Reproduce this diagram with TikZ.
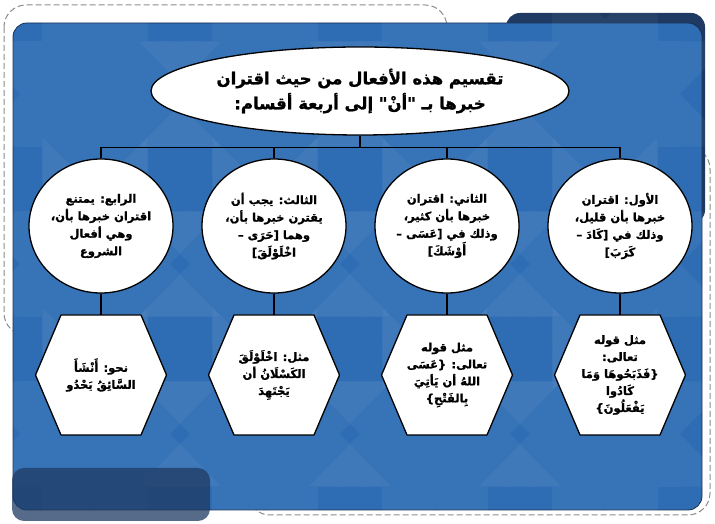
\documentclass[tikz,border=0pt]{standalone}
\usepackage{fontspec}
\usepackage{tikz}
\usetikzlibrary{shapes.geometric,calc}
\newfontfamily\arabicfont[Script=Arabic, BoldFeatures={FakeBold=1.2}]{DejaVu Sans}
\TeXXeTstate=1
\definecolor{SlideBlue}{HTML}{2E6DB4}
\definecolor{SlideNavy}{HTML}{1E3A62}
\definecolor{DashGray}{HTML}{8A8A8A}
\newcommand{\artext}[1]{\beginR #1\endR}
\tikzset{
  rootbox/.style={ellipse, draw=black, line width=1.3pt, fill=white,
    minimum width=418pt, minimum height=88pt, inner sep=0pt, align=center,
    font=\arabicfont\bfseries\fontsize{16.5}{25}\selectfont},
  kindbox/.style={ellipse, draw=black, line width=1.3pt, fill=white,
    minimum width=144pt, minimum height=134pt, inner sep=0pt, align=center,
    font=\arabicfont\bfseries\fontsize{11.5}{17.5}\selectfont},
  examplebox/.style={rectangle, minimum width=131pt, minimum height=120pt,
    inner sep=0pt, align=center,
    font=\arabicfont\bfseries\fontsize{11.5}{17}\selectfont},
  hexline/.style={draw=black, line width=1.3pt, fill=white, line join=round},
  branch/.style={draw=black, line width=1.2pt},
  dashframe/.style={DashGray, line width=1pt, dash pattern=on 6pt off 3pt, rounded corners=22pt},
}

\begin{document}
\begin{tikzpicture}[x=1pt,y=1pt]
  \useasboundingbox (0,0) rectangle (715,524);
  % slide background
  \draw[dashframe] (4,519) rectangle (447,189);
  \draw[dashframe] (248,9) rectangle (710,377);
  \fill[SlideNavy, rounded corners=14pt] (506,511) rectangle (705,300);
  \filldraw[fill=SlideBlue, draw=SlideNavy!80!black, line width=0.8pt, rounded corners=14pt] (13,14) rectangle (702,501);
  \foreach \px in {95,265,435,605}
    \foreach \py in {90,260,430}
      \node[star, star points=8, star point ratio=0.55, minimum size=150pt,
            fill=white, fill opacity=0.045] at (\px,\py) {};
  \fill[SlideNavy, fill opacity=0.75, rounded corners=12pt] (12,3) rectangle (210,56);

  % root
  \node[rootbox] (root) at (360,433)
    {\artext{تقسيم هذه الأفعال من حيث اقتران}\\
     \artext{خبرها بـ "أنْ" إلى أربعة أقسام:}};

  % the four kinds
  \node[kindbox] (k4) at (101,298)
    {\artext{الرابع: يمتنع}\\ \artext{اقتران خبرها بأن،}\\
     \artext{وهي أفعال}\\ \artext{الشروع}};
  \node[kindbox] (k3) at (274,298)
    {\artext{الثالث: يجب أن}\\ \artext{يقترن خبرها بأن،}\\
     \artext{وهما [حَرَى –}\\ \artext{اخْلَوْلَقَ]}};
  \node[kindbox] (k2) at (447,298)
    {\artext{الثاني: اقتران}\\ \artext{خبرها بأن كثير،}\\
     \artext{وذلك في [عَسَى –}\\ \artext{أَوْشَكَ]}};
  \node[kindbox] (k1) at (620,298)
    {\artext{الأول: اقتران}\\ \artext{خبرها بأن قليل،}\\
     \artext{وذلك في [كَادَ –}\\ \artext{كَرَبَ]}};

  % hexagons under the examples
  \foreach \px in {101,274,447,620}
    \draw[hexline] (\px-65.5,149) -- ++(25.5,60) -- ++(80,0) -- ++(25.5,-60)
      -- ++(-25.5,-60) -- ++(-80,0) -- cycle;

  % examples
  \node[examplebox] (e4) at (101,149)
    {\artext{نحو: أَنْشَأَ}\\ \artext{السَّائِقُ يَحْدُو}};
  \node[examplebox] (e3) at (274,149)
    {\artext{مثل: اخْلَوْلَقَ}\\ \artext{الكَسْلَانُ أن}\\ \artext{يَجْتَهِدَ}};
  \node[examplebox] (e2) at (447,149)
    {\artext{مثل قوله}\\ \artext{تعالى: \{عَسَى}\\
     \artext{اللهُ أن يَأتِيَ}\\ \artext{بِالفَتْحِ\}}};
  \node[examplebox] (e1) at (620,149)
    {\artext{مثل قوله}\\ \artext{تعالى:}\\ \artext{\{فَذَبَحُوهَا وَمَا}\\
     \artext{كَادُوا}\\ \artext{يَفْعَلُونَ\}}};

  % connectors
  \draw[branch] (root.south) -- ++(0,-12) coordinate (bus);
  \foreach \n in {k1,k2,k3,k4}
    \draw[branch] (bus) -| (\n.north);
  \foreach \n/\m in {k1/e1,k2/e2,k3/e3,k4/e4}
    \draw[branch] (\n.south) -- (\m.north);
\end{tikzpicture}
\end{document}
